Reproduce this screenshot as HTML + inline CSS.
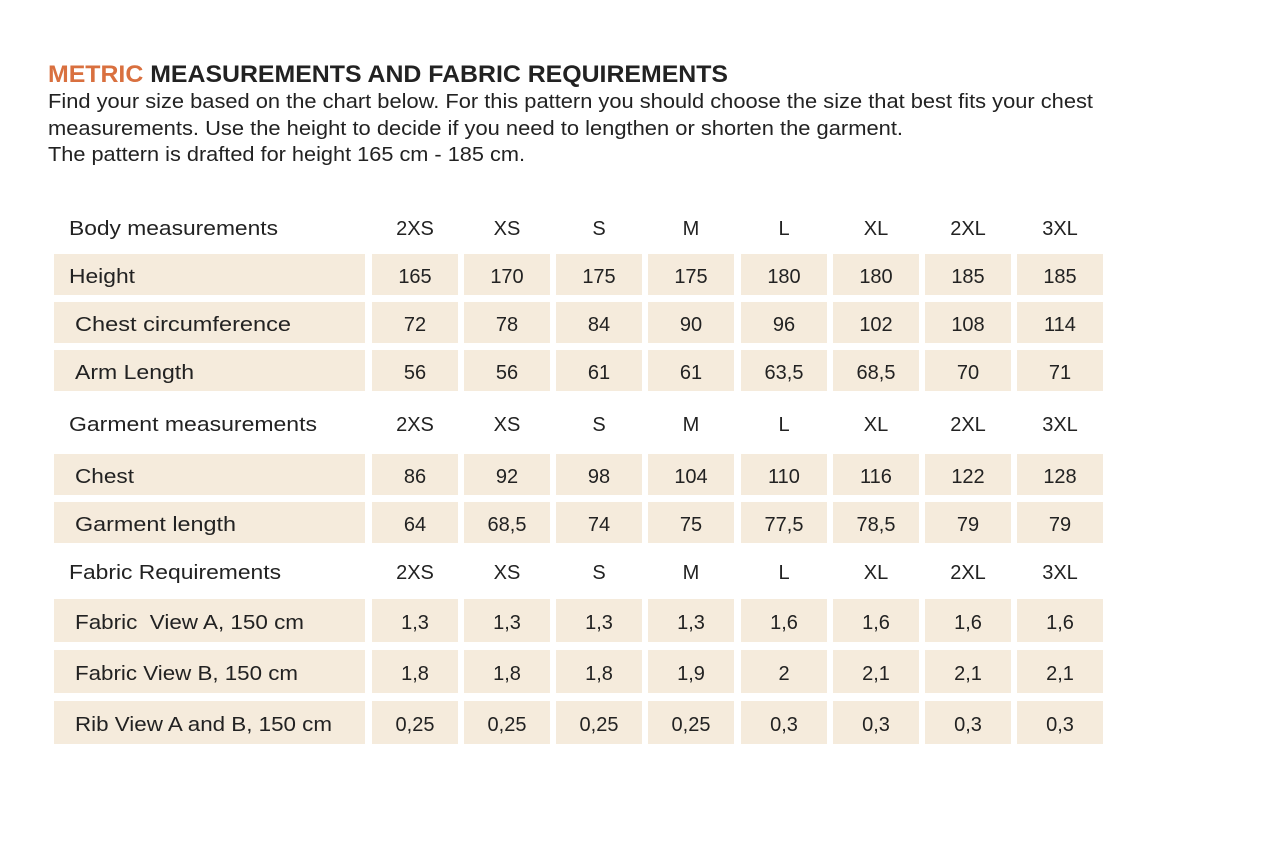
<!DOCTYPE html>
<html><head><meta charset="utf-8"><style>
html,body{margin:0;padding:0;background:#fff;}
svg{display:block;}
text{font-family:"Liberation Sans",sans-serif;fill:#222;}
</style></head><body>
<svg width="1263" height="853" viewBox="0 0 1263 853" xmlns="http://www.w3.org/2000/svg">
<text x="48" y="82" font-size="24" font-weight="bold" textLength="680" lengthAdjust="spacingAndGlyphs"><tspan fill="#d9703f">METRIC</tspan> MEASUREMENTS AND FABRIC REQUIREMENTS</text>
<text x="48" y="108" font-size="20" textLength="1045" lengthAdjust="spacingAndGlyphs">Find your size based on the chart below. For this pattern you should choose the size that best fits your chest</text>
<text x="48" y="135" font-size="20" textLength="855" lengthAdjust="spacingAndGlyphs">measurements. Use the height to decide if you need to lengthen or shorten the garment.</text>
<text x="48" y="161" font-size="20" textLength="477" lengthAdjust="spacingAndGlyphs">The pattern is drafted for height 165 cm - 185 cm.</text>
<g fill="#f5ebdc">
<rect x="54" y="254" width="311" height="41"/><rect x="54" y="302" width="311" height="41"/><rect x="54" y="350" width="311" height="41"/>
<rect x="54" y="454" width="311" height="41"/><rect x="54" y="502" width="311" height="41"/>
<rect x="54" y="599" width="311" height="43"/><rect x="54" y="650" width="311" height="43"/><rect x="54" y="701" width="311" height="43"/>
</g>
<g id="cells" fill="#f5ebdc"></g>
<g font-size="20" lengthAdjust="spacingAndGlyphs">
<text x="69" y="235" textLength="209" lengthAdjust="spacingAndGlyphs">Body measurements</text>
<text x="69" y="283" textLength="66" lengthAdjust="spacingAndGlyphs">Height</text>
<text x="75" y="331" textLength="216" lengthAdjust="spacingAndGlyphs">Chest circumference</text>
<text x="75" y="379" textLength="119" lengthAdjust="spacingAndGlyphs">Arm Length</text>
<text x="69" y="431" textLength="248" lengthAdjust="spacingAndGlyphs">Garment measurements</text>
<text x="75" y="483" textLength="59" lengthAdjust="spacingAndGlyphs">Chest</text>
<text x="75" y="531" textLength="161" lengthAdjust="spacingAndGlyphs">Garment length</text>
<text x="69" y="579" textLength="212" lengthAdjust="spacingAndGlyphs">Fabric Requirements</text>
<text x="75" y="629" textLength="229" lengthAdjust="spacingAndGlyphs" xml:space="preserve">Fabric  View A, 150 cm</text>
<text x="75" y="680" textLength="223" lengthAdjust="spacingAndGlyphs">Fabric View B, 150 cm</text>
<text x="75" y="731" textLength="257" lengthAdjust="spacingAndGlyphs">Rib View A and B, 150 cm</text>
</g>
<g id="vals" font-size="20" text-anchor="middle"></g>
<script>
var xs=[372,464,556,648,741,833,925,1017];
var rows=[[254,41],[302,41],[350,41],[454,41],[502,41],[599,43],[650,43],[701,43]];
var c=document.getElementById('cells'),v=document.getElementById('vals');
var ns='http://www.w3.org/2000/svg';
rows.forEach(function(r){xs.forEach(function(x){var e=document.createElementNS(ns,'rect');e.setAttribute('x',x);e.setAttribute('y',r[0]);e.setAttribute('width',86);e.setAttribute('height',r[1]);c.appendChild(e);});});
var sz=['2XS','XS','S','M','L','XL','2XL','3XL'];
var data=[[235,sz],[283,['165','170','175','175','180','180','185','185']],[331,['72','78','84','90','96','102','108','114']],[379,['56','56','61','61','63,5','68,5','70','71']],[431,sz],[483,['86','92','98','104','110','116','122','128']],[531,['64','68,5','74','75','77,5','78,5','79','79']],[579,sz],[629,['1,3','1,3','1,3','1,3','1,6','1,6','1,6','1,6']],[680,['1,8','1,8','1,8','1,9','2','2,1','2,1','2,1']],[731,['0,25','0,25','0,25','0,25','0,3','0,3','0,3','0,3']]];
data.forEach(function(d){d[1].forEach(function(t,i){var e=document.createElementNS(ns,'text');e.setAttribute('x',xs[i]+43);e.setAttribute('y',d[0]);e.textContent=t;v.appendChild(e);});});
</script>
</svg>
</body></html>
